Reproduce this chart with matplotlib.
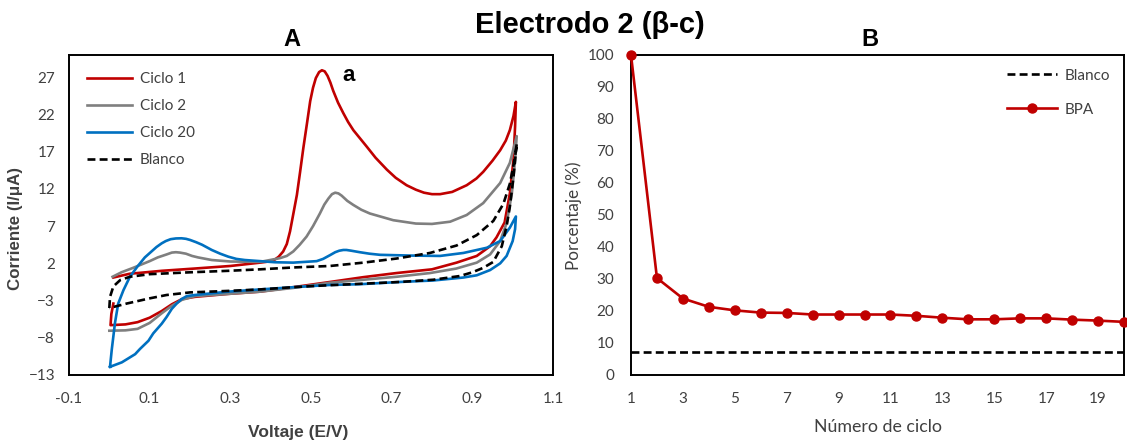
import matplotlib
matplotlib.use("Agg")
import matplotlib.pyplot as plt
from matplotlib.lines import Line2D

# ---------------- Data: panel A (cyclic voltammograms) ----------------
# Each curve: anodic (upper) branch from ~0 V to ~1.01 V, then reverse (lower) branch back to ~0 V
ciclo1_v = [0.010, 0.05, 0.13, 0.21, 0.30, 0.374, 0.395, 0.41, 0.42, 0.431, 0.44, 0.448, 0.456, 0.465,
            0.473, 0.481, 0.49, 0.498, 0.505, 0.512, 0.52, 0.527, 0.534, 0.541, 0.548, 0.555, 0.567, 0.58,
            0.592, 0.605, 0.62, 0.638, 0.66, 0.688, 0.71, 0.737, 0.76, 0.78, 0.80, 0.82, 0.85, 0.886, 0.91,
            0.927, 0.95, 0.969, 0.983, 0.993, 1.002, 1.008,
            1.006, 1.002, 0.993, 0.98, 0.96, 0.944, 0.911, 0.861, 0.80, 0.712, 0.63, 0.547, 0.456, 0.374,
            0.295, 0.212, 0.18, 0.155, 0.13, 0.10, 0.07, 0.04, 0.003, 0.005, 0.010]
ciclo1_i = [0.1, 0.6, 1.0, 1.3, 1.65, 2.1, 2.25, 2.5, 2.9, 3.6, 4.6, 6.3, 8.6, 11.2,
            14.3, 17.5, 20.8, 23.8, 25.6, 26.9, 27.7, 27.95, 27.8, 27.2, 26.3, 25.2, 23.6, 22.2,
            21.0, 19.9, 18.9, 17.7, 16.2, 14.6, 13.5, 12.5, 11.9, 11.5, 11.3, 11.3, 11.6, 12.5, 13.4,
            14.3, 15.8, 17.2, 18.5, 19.9, 21.8, 23.7,
            20.4, 15.9, 11.4, 7.5, 5.5, 4.3, 3.0, 2.1, 1.2, 0.7, 0.15, -0.5, -1.2, -1.8,
            -2.1, -2.5, -2.8, -3.5, -4.4, -5.3, -5.9, -6.2, -6.3, -4.8, -3.4]

ciclo2_v = [0.008, 0.03, 0.059, 0.10, 0.12, 0.142, 0.155, 0.165, 0.175, 0.19, 0.205, 0.22, 0.254, 0.30,
            0.374, 0.423, 0.44, 0.456, 0.472, 0.489, 0.505, 0.522, 0.533, 0.543, 0.552, 0.56, 0.568, 0.576,
            0.59, 0.605, 0.625, 0.646, 0.704, 0.76, 0.80, 0.845, 0.886, 0.927, 0.969, 0.993, 1.010,
            1.006, 0.998, 0.985, 0.969, 0.944, 0.911, 0.86, 0.795, 0.712, 0.63, 0.547, 0.456, 0.374, 0.295,
            0.212, 0.18, 0.155, 0.13, 0.10, 0.07, 0.04, 0.0]
ciclo2_i = [0.2, 0.8, 1.4, 2.3, 2.8, 3.2, 3.45, 3.5, 3.45, 3.3, 3.0, 2.8, 2.45, 2.25,
            2.2, 2.7, 3.0, 3.6, 4.5, 5.6, 7.0, 8.7, 9.9, 10.7, 11.3, 11.5, 11.4, 11.1,
            10.4, 9.85, 9.2, 8.7, 7.8, 7.35, 7.3, 7.6, 8.5, 10.1, 12.8, 15.5, 19.1,
            15.9, 11.4, 7.4, 5.0, 3.2, 2.1, 1.3, 0.7, 0.2, -0.2, -0.6, -1.3, -1.8, -2.1,
            -2.4, -2.9, -3.7, -4.7, -6.0, -6.8, -7.0, -7.05]

ciclo20_v = [0.0017, 0.006, 0.014, 0.022, 0.035, 0.051, 0.07, 0.088, 0.117, 0.13, 0.14, 0.152, 0.165, 0.179,
             0.19, 0.20, 0.215, 0.23, 0.254, 0.275, 0.295, 0.315, 0.336, 0.374, 0.411, 0.456, 0.514, 0.53,
             0.547, 0.56, 0.57, 0.58, 0.588, 0.60, 0.621, 0.645, 0.671, 0.745, 0.82,
             0.878, 0.936, 0.969, 0.993, 1.008,
             1.006, 1.0, 0.985, 0.969, 0.944, 0.911, 0.878, 0.803, 0.72, 0.621, 0.547, 0.456, 0.374, 0.295,
             0.212, 0.192, 0.179, 0.167, 0.155, 0.142, 0.13, 0.109, 0.097, 0.076, 0.064, 0.043, 0.031, 0.0017]
ciclo20_i = [-11.9, -9.6, -6.0, -3.4, -1.6, 0.2, 1.6, 2.8, 4.2, 4.7, 5.0, 5.25, 5.35, 5.37,
             5.3, 5.15, 4.85, 4.5, 3.8, 3.3, 2.9, 2.6, 2.45, 2.3, 2.15, 2.1, 2.3, 2.6,
             3.1, 3.5, 3.7, 3.8, 3.8, 3.7, 3.5, 3.3, 3.15, 3.05, 3.0,
             3.4, 4.1, 5.0, 6.8, 8.3,
             6.6, 5.0, 3.0, 2.0, 1.1, 0.4, 0.1, -0.3, -0.5, -0.8, -0.9, -1.2, -1.5, -1.8,
             -2.25, -2.4, -2.8, -3.4, -4.1, -5.2, -6.1, -7.4, -8.4, -9.5, -10.2, -10.9, -11.3, -11.9]

blanco_v = [0.0, 0.0017, 0.01, 0.027, 0.051, 0.10, 0.20, 0.295, 0.374, 0.456, 0.547, 0.63, 0.712, 0.795,
            0.861, 0.911, 0.952, 0.977, 0.993, 1.006, 1.010,
            1.002, 0.993, 0.985, 0.973, 0.96, 0.952, 0.927, 0.90, 0.869, 0.803, 0.72, 0.621, 0.539, 0.456,
            0.374, 0.295, 0.20, 0.142, 0.10, 0.043, 0.0]
blanco_i = [-4.0, -2.5, -1.1, -0.24, 0.2, 0.55, 0.8, 1.0, 1.2, 1.45, 1.65, 2.1, 2.65, 3.4,
            4.4, 5.8, 7.7, 10.0, 12.7, 16.3, 18.1,
            13.6, 9.6, 7.0, 4.3, 3.0, 2.2, 1.4, 0.8, 0.3, -0.2, -0.5, -0.75, -0.95, -1.2,
            -1.5, -1.7, -1.9, -2.25, -2.7, -3.4, -4.0]

# ---------------- Data: panel B ----------------
ciclos = list(range(1, 21))
bpa_pct = [100, 30.3, 23.9, 21.3, 20.2, 19.5, 19.4, 18.9, 18.9, 18.9, 18.9, 18.5, 17.9, 17.4, 17.4,
           17.7, 17.7, 17.3, 17.0, 16.6]
blanco_pct = 7.3

left_yticks = [-13, -8, -3, 2, 7, 12, 17, 22, 27]
left_xticks = [-0.1, 0.1, 0.3, 0.5, 0.7, 0.9, 1.1]
right_yticks = list(range(0, 101, 10))
right_xticks = list(range(1, 20, 2))

# ---------------- Style ----------------
RED = "#C00000"
GRAY = "#7F7F7F"
BLUE = "#0070C0"
TXT = "#404040"
TICKFONT = ["Lato", "DejaVu Sans"]
BOLDFONT = ["Liberation Sans", "DejaVu Sans"]
DASH = (0, (3, 1.6))

W, H = 1127, 441
fig = plt.figure(figsize=(W / 100, H / 100), dpi=100)

def ax_rect(x0, y0, x1, y1):
    return [x0 / W, 1 - y1 / H, (x1 - x0) / W, (y1 - y0) / H]

axA = fig.add_axes(ax_rect(69, 55, 553, 375))
axB = fig.add_axes(ax_rect(631, 55, 1124, 375))

# Panel A
lw = 1.9
axA.plot(ciclo1_v, ciclo1_i, color=RED, lw=lw, label="Ciclo 1", solid_joinstyle="round")
axA.plot(ciclo2_v, ciclo2_i, color=GRAY, lw=lw, label="Ciclo 2", solid_joinstyle="round")
axA.plot(ciclo20_v, ciclo20_i, color=BLUE, lw=lw, label="Ciclo 20", solid_joinstyle="round")
axA.plot(blanco_v, blanco_i, color="black", lw=lw, ls=DASH, label="Blanco")
axA.set_xlim(-0.1, 1.1)
axA.set_ylim(-13, 30)
axA.set_xticks(left_xticks)
axA.set_xticklabels([f"{t:.1f}" for t in left_xticks])
axA.set_yticks(left_yticks)
axA.tick_params(length=0, labelsize=11, labelcolor=TXT)
axA.tick_params(axis="y", pad=10)
axA.tick_params(axis="x", pad=12)
for lab in axA.get_xticklabels() + axA.get_yticklabels():
    lab.set_family(TICKFONT)
for s in axA.spines.values():
    s.set_linewidth(1.4)
    s.set_color("black")
legA = axA.legend(loc="upper left", bbox_to_anchor=(0.008, 0.99), frameon=False, handlelength=3.0,
                  labelspacing=0.85, handletextpad=0.5, prop={"family": TICKFONT, "size": 11})
for t in legA.get_texts():
    t.set_color(TXT)
axA.text(0.594, 27.2, "a", fontsize=16, fontweight="bold", family=BOLDFONT, va="center", ha="center")

# Panel B
axB.plot(ciclos, bpa_pct, color=RED, lw=1.9, marker="o", markersize=6.5, clip_on=False, zorder=3)
axB.axhline(blanco_pct, color="black", lw=1.9, ls=DASH)
axB.set_xlim(1, 20)
axB.set_ylim(0, 100)
axB.set_xticks(right_xticks)
axB.set_yticks(right_yticks)
axB.tick_params(length=0, labelsize=11, labelcolor=TXT)
axB.tick_params(axis="y", pad=12)
axB.tick_params(axis="x", pad=12)
for lab in axB.get_xticklabels() + axB.get_yticklabels():
    lab.set_family(TICKFONT)
for s in axB.spines.values():
    s.set_linewidth(1.4)
    s.set_color("black")
handles = [Line2D([], [], color="black", lw=1.9, ls=DASH),
           Line2D([], [], color=RED, lw=1.9, marker="o", markersize=6.5)]
legB = axB.legend(handles, ["Blanco", "BPA"], loc="upper right", bbox_to_anchor=(1.0, 1.0), frameon=False,
                  handlelength=3.3, labelspacing=1.3, handletextpad=0.5,
                  prop={"family": TICKFONT, "size": 11})
for t in legB.get_texts():
    t.set_color(TXT)

# Titles and axis labels
fig.text(590 / W, 1 - 25 / H, "Electrodo 2 (β-c)", fontsize=21, fontweight="bold", family=BOLDFONT,
         ha="center", va="center")
fig.text(292 / W, 1 - 40 / H, "A", fontsize=17, fontweight="bold", family=BOLDFONT, ha="center", va="center")
fig.text(870 / W, 1 - 40 / H, "B", fontsize=17, fontweight="bold", family=BOLDFONT, ha="center", va="center")
fig.text(16 / W, 1 - 228 / H, "Corriente (I/μA)", fontsize=12.2, fontweight="bold", family=BOLDFONT,
         rotation=90, ha="center", va="center", color=TXT)
fig.text(298 / W, 1 - 432 / H, "Voltaje (E/V)", fontsize=12.5, fontweight="bold", family=BOLDFONT,
         ha="center", va="center", color=TXT)
fig.text(574 / W, 1 - 216 / H, "Porcentaje (%)", fontsize=12.3, family=TICKFONT,
         rotation=90, ha="center", va="center", color=TXT)
fig.text(878 / W, 1 - 427 / H, "Número de ciclo", fontsize=12.8, family=TICKFONT,
         ha="center", va="center", color=TXT)

fig.savefig("out.png", dpi=100)
